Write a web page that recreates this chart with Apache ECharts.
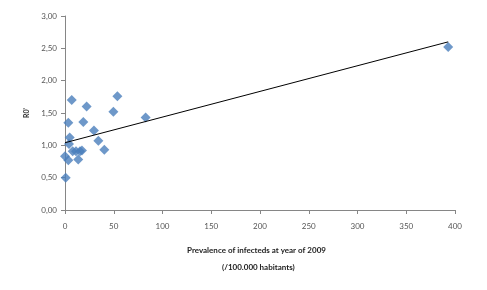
<!DOCTYPE html>
<html lang="en">
<style>
  #container {
    width: 487px;
    height: 290px;
  }

  body {
    margin: 0;
    background: #ffffff;
  }
</style>

<head>
  <meta charset="UTF-8">
  <script src="https://cdn.jsdelivr.net/npm/echarts@6/dist/echarts.min.js"></script>
</head>

<body>
  <div id="container"></div>
  <script>
    // prevalence (/100.000) and R0' per region
    var prevalence = [6.9, 53.7, 22.2, 49.6, 82.7, 3.4, 18.8, 29.7, 4.8, 34.2, 4.1, 40.3, 7.9, 11.3, 15.4, 17.4, 13.6, 0, 3.4, 0.7, 393];
    var r0 = [1.70, 1.76, 1.60, 1.52, 1.43, 1.35, 1.36, 1.23, 1.12, 1.07, 1.02, 0.93, 0.91, 0.91, 0.91, 0.92, 0.78, 0.83, 0.77, 0.50, 2.52];
    // linear trend end points
    var trendX = [0, 393];
    var trendY = [1.04, 2.60];

    var points = prevalence.map(function (x, i) { return [x, r0[i]]; });
    var trend = trendX.map(function (x, i) { return [x, trendY[i]]; });

    var myChart = echarts.init(document.getElementById('container'));
    var font = 'Lato';
    var axisColor = '#868686';

    var option = {
      animation: false,
      grid: { left: 65, right: 32, top: 16, bottom: 80 },
      xAxis: {
        type: 'value',
        min: 0,
        max: 400,
        interval: 50,
        axisLine: { show: true, lineStyle: { color: axisColor } },
        axisTick: { show: true, length: 4, lineStyle: { color: axisColor } },
        splitLine: { show: false },
        axisLabel: { color: '#555', fontSize: 8, fontFamily: font, margin: 12 }
      },
      yAxis: {
        type: 'value',
        min: 0,
        max: 3,
        interval: 0.5,
        name: "R0'",
        nameLocation: 'middle',
        nameRotate: 90,
        nameGap: 34,
        nameTextStyle: { fontSize: 7, fontWeight: 'bold', color: '#333', fontFamily: font },
        axisLine: { show: true, lineStyle: { color: axisColor } },
        axisTick: { show: true, length: 4, lineStyle: { color: axisColor } },
        splitLine: { show: false },
        axisLabel: {
          color: '#555', fontSize: 8, fontFamily: font, margin: 8,
          formatter: function (v) { return v.toFixed(2).replace('.', ','); }
        }
      },
      // two-line x axis title, as in the source figure
      graphic: [
        {
          type: 'text', left: 187, top: 246,
          style: { text: 'Prevalence of infecteds at year of 2009', fill: '#222', font: 'bold 8px Lato' }
        },
        {
          type: 'text', left: 222, top: 263,
          style: { text: '(/100.000 habitants)', fill: '#222', font: 'bold 8px Lato' }
        }
      ],
      series: [
        {
          type: 'line',
          data: trend,
          symbol: 'none',
          lineStyle: { color: '#000', width: 1 },
          z: 3
        },
        {
          type: 'scatter',
          data: points,
          symbol: 'diamond',
          symbolSize: 10,
          itemStyle: { color: '#4a7ebb' },
          z: 2
        }
      ]
    };
    myChart.setOption(option);
  </script>
</body>

</html>
